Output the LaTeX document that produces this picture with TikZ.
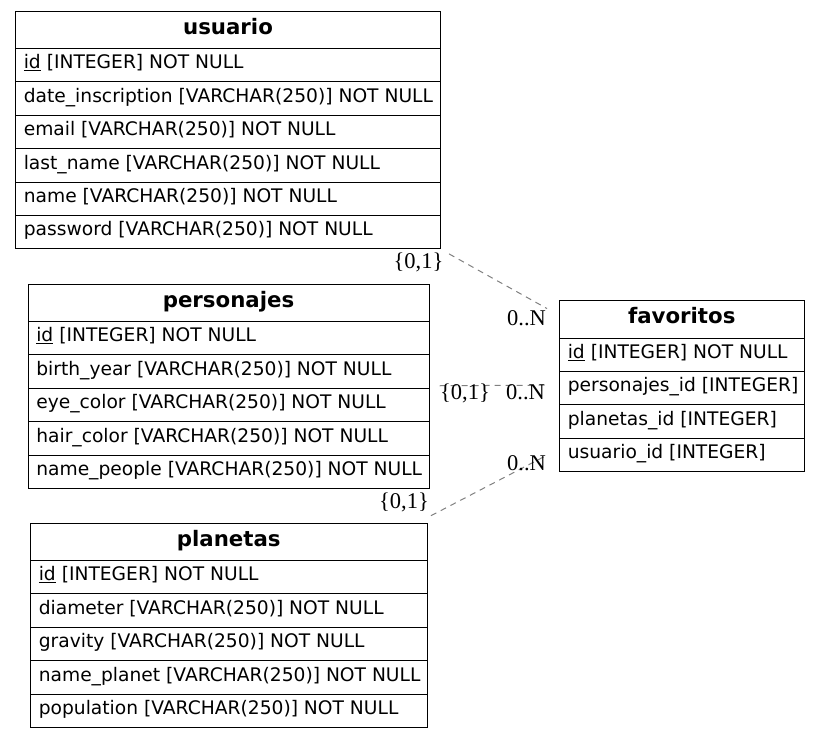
\documentclass[tikz,border=0pt]{standalone}
\usepackage{fontspec}
\setmainfont{DejaVu Sans}
\newfontfamily\cardfont{Liberation Serif}
\usetikzlibrary{calc}

\definecolor{edgegray}{gray}{0.5}

\tikzset{
  x=1pt, y=-1pt,
  tblhead/.style={draw=black, line width=1pt, anchor=north west,
    inner xsep=0pt, inner ysep=0pt, text height=23pt, text depth=14.5pt,
    font=\fontsize{21.3}{24}\selectfont\bfseries},
  tblrow/.style={draw=black, line width=1pt, anchor=north west,
    inner xsep=8.3pt, inner ysep=0pt, text height=20.4pt, text depth=13pt,
    font=\fontsize{18.67}{22}\selectfont},
  rel/.style={draw=edgegray, line width=1pt, dash pattern=on 6pt off 5pt},
  card/.style={inner sep=0pt, font=\cardfont\fontsize{22.5}{24}\selectfont}
}

% \erdtable{name}{left}{top}{width}{inner text width}{title}{fields}
\newcommand\erdtable[7]{%
  \node[tblhead, minimum width=#4pt] (#1) at (#2,#3) {#6};
  \foreach \fld [count=\i] in {#7} {
    \node[tblrow, minimum width=#4pt] (#1-\i) at (#2,{#3+37.5+(\i-1)*33.4})
      {\makebox[#5pt][l]{\fld}};
  }
}

\begin{document}
\begin{tikzpicture}
\useasboundingbox (0,0) rectangle (819,737);

\erdtable{usuario}{15}{10.5}{425}{408.4}{usuario}{
  \underline{id} [INTEGER] NOT NULL,
  date\_inscription [VARCHAR(250)] NOT NULL,
  email [VARCHAR(250)] NOT NULL,
  last\_name [VARCHAR(250)] NOT NULL,
  name [VARCHAR(250)] NOT NULL,
  password [VARCHAR(250)] NOT NULL}

\erdtable{personajes}{27.5}{283.5}{401}{384.4}{personajes}{
  \underline{id} [INTEGER] NOT NULL,
  birth\_year [VARCHAR(250)] NOT NULL,
  eye\_color [VARCHAR(250)] NOT NULL,
  hair\_color [VARCHAR(250)] NOT NULL,
  name\_people [VARCHAR(250)] NOT NULL}

\erdtable{planetas}{30}{522.5}{396.5}{379.9}{planetas}{
  \underline{id} [INTEGER] NOT NULL,
  diameter [VARCHAR(250)] NOT NULL,
  gravity [VARCHAR(250)] NOT NULL,
  name\_planet [VARCHAR(250)] NOT NULL,
  population [VARCHAR(250)] NOT NULL}

\erdtable{favoritos}{559}{300}{244.5}{227.9}{favoritos}{
  \underline{id} [INTEGER] NOT NULL,
  personajes\_id [INTEGER],
  planetas\_id [INTEGER],
  usuario\_id [INTEGER]}

% relationships
\draw[rel, shorten <=9.2pt, shorten >=13.7pt]
  (usuario-6.south east) -- ([yshift=4pt]favoritos.west);
\draw[rel, shorten <=10pt, shorten >=14pt]
  ([yshift=3pt]personajes-2.south east) -- ([yshift=3pt]favoritos-2.west);
\draw[rel, shorten <=3.9pt, shorten >=13.9pt]
  ([yshift=5pt]planetas.north east) -- ([yshift=6pt]favoritos-4.west);

% cardinalities
\node[card] (c-us) at (418.5,262.5) {\{0,1\}};
\node[card] (c-fu) at (526.5,318.5) {0..N};
\node[card] (c-pe) at (465,393) {\{0,1\}};
\node[card] (c-fp) at (525.5,392.5) {0..N};
\node[card] (c-fl) at (526.5,463.3) {0..N};
\node[card] (c-pl) at (404,502.5) {\{0,1\}};
\end{tikzpicture}
\end{document}
